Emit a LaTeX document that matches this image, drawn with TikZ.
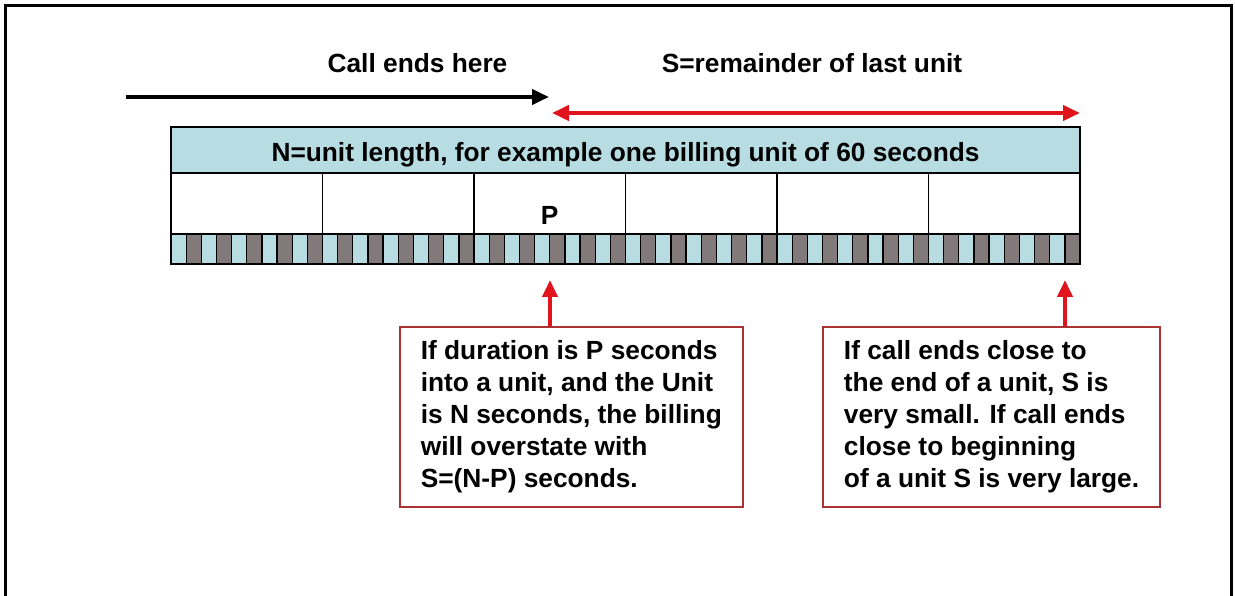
\documentclass[tikz,border=0pt]{standalone}
\usepackage{fontspec}
\usepackage{xcolor}
\usepackage{tikz}
\usetikzlibrary{arrows.meta}
\usetikzlibrary{positioning}
\setmainfont{Liberation Sans}
\newcommand\bigtext{\fontsize{26.3pt}{32pt}\selectfont\bfseries}
\definecolor{bandblue}{RGB}{183,221,227}
\definecolor{bandgray}{RGB}{130,122,122}
\definecolor{notered}{RGB}{170,50,50}
\definecolor{arrowred}{RGB}{225,20,30}
\tikzset{
    lbl/.style = {font=\bigtext, inner sep=0pt},
    band/.style = {draw=black, fill=bandblue, line width=1.3pt, inner sep=0pt, outer sep=0pt, minimum width=909pt},
    cell/.style = {draw=black, fill=white, line width=1.3pt, inner sep=0pt, outer sep=0pt, minimum width=151.5pt, minimum height=61pt},
    tick/.style = {draw=black, fill=bandgray, line width=1.3pt, inner sep=0pt, outer sep=0pt, minimum width=15.15pt, minimum height=30pt},
    note/.style = {draw=notered, fill=white, line width=1.6pt, align=left, inner xsep=21pt, inner ysep=0pt, minimum height=180pt, font=\bigtext},
    blackarrow/.style = {draw=black, line width=4pt, -{Triangle[length=17pt,width=15pt]}},
    redarrow/.style = {draw=arrowred, line width=4pt}
}
\begin{document}
\begin{tikzpicture}[x=1pt, y=-1pt, >={Triangle[length=17pt,width=15pt]}]
    \useasboundingbox (0,0) rectangle (1235,596);
    \draw[line width=3pt] (5.5,596) -- (5.5,5.5) -- (1231.5,5.5) -- (1231.5,596);

    \node [lbl, anchor=base] (callend) at (417.5,73) {Call ends here};
    \node [lbl, anchor=base] (remain) at (812,73) {S=remainder of last unit};
    \coordinate (callstart) at (126,97);
    \coordinate (callstop) at (549,97);
    \coordinate (remleft) at (552,113);
    \coordinate (remright) at (1080,113);
    \draw [blackarrow] (callstart) -- (callstop);
    \draw [redarrow, <->] (remleft) -- (remright);

    \node [band, minimum height=46pt, font=\bigtext, text height=24pt, text depth=0pt] (unit) at (625.5,150)
        {N=unit length, for example one billing unit of 60 seconds};
    \node [cell, anchor=north west] (c1) at (unit.south west) {};
    \foreach \i [count=\j from 2] in {1,...,5}
        \node [cell, right=0pt of c\i] (c\j) {};
    \node [lbl, anchor=base] (pmark) at ([yshift=-21pt]c3.center) {P};
    \node [band, minimum height=30pt, anchor=north west] (strip) at (c1.south west) {};
    \foreach \k in {1,3,...,59}
        \node [tick, anchor=west] (t\k) at ([xshift=\k*15.15pt]strip.west) {};

    \node [note, anchor=north west] (pnote) at (399,326)
        {If duration is P seconds\\into a unit, and the Unit\\is N seconds, the billing\\will overstate with\\S=(N-P) seconds.};
    \node [note, anchor=north east] (snote) at (1161,326)
        {If call ends close to\\the end of a unit, S is\\very small. If call ends\\close to beginning\\of a unit S is very large.};
    \coordinate (ptip) at (550,280);
    \coordinate (stip) at (1065,280);
    \draw [redarrow, ->] (pnote.north -| ptip) -- (ptip);
    \draw [redarrow, ->] (snote.north -| stip) -- (stip);
\end{tikzpicture}
\end{document}
